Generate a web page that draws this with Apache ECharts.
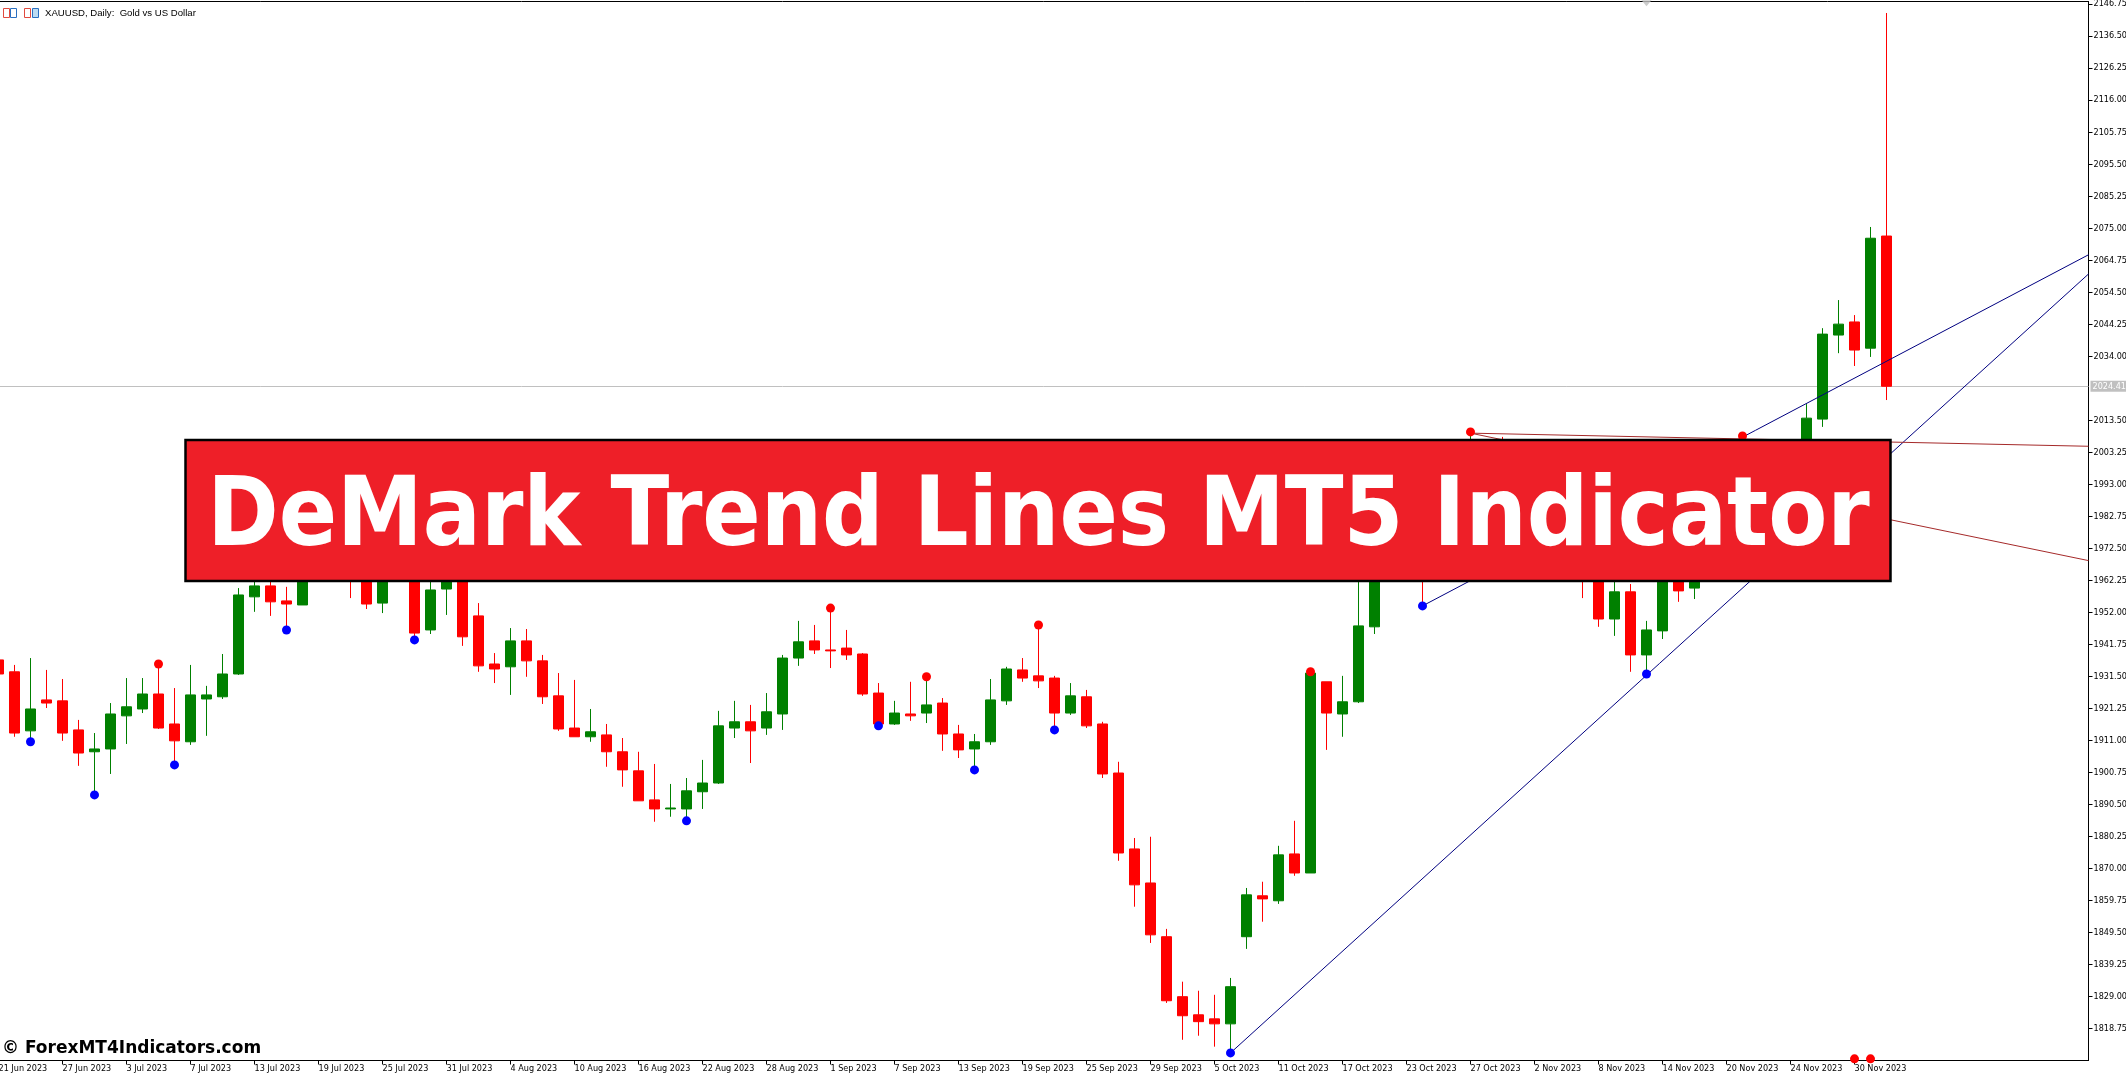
<!DOCTYPE html>
<html><head><meta charset="utf-8">
<style>html,body{margin:0;padding:0;background:#fff;overflow:hidden}#c{width:2126px;height:1077px}</style>
<script src="https://cdn.jsdelivr.net/npm/echarts@6/dist/echarts.min.js"></script>
</head><body><div id="c"></div>
<script>
const chartTitle = 'XAUUSD, Daily:  Gold vs US Dollar';
const bannerText = 'DeMark Trend Lines MT5 Indicator';
const watermark = '\u00A9 ForexMT4Indicators.com';
const dateLabels = ['21 Jun 2023','27 Jun 2023','3 Jul 2023','7 Jul 2023','13 Jul 2023','19 Jul 2023','25 Jul 2023','31 Jul 2023','4 Aug 2023','10 Aug 2023','16 Aug 2023','22 Aug 2023','28 Aug 2023','1 Sep 2023','7 Sep 2023','13 Sep 2023','19 Sep 2023','25 Sep 2023','29 Sep 2023','5 Oct 2023','11 Oct 2023','17 Oct 2023','23 Oct 2023','27 Oct 2023','2 Nov 2023','8 Nov 2023','14 Nov 2023','20 Nov 2023','24 Nov 2023','30 Nov 2023'];
const dateLabelStep = 4;
const priceTicks = [2146.75,2136.5,2126.25,2116,2105.75,2095.5,2085.25,2075,2064.75,2054.5,2044.25,2034,2013.5,2003.25,1993,1982.75,1972.5,1962.25,1952,1941.75,1931.5,1921.25,1911,1900.75,1890.5,1880.25,1870,1859.75,1849.5,1839.25,1829,1818.75];
const lastPrice = 2024.41;
const opens = [1936.8,1933.0,1914.1,1924.0,1923.7,1914.4,1907.4,1908.3,1918.9,1921.1,1925.9,1916.3,1910.6,1924.3,1925.0,1932.3,1957.0,1960.5,1955.7,1954.4,1969,1975,1972,1966,1955.0,1968,1966,1946.4,1959.5,1966,1950.9,1935.5,1934.6,1942.9,1936.5,1925.3,1915.0,1912.2,1912.8,1907.4,1901.3,1892.0,1889.1,1889.1,1894.6,1897.4,1915.0,1917.0,1915.0,1919.5,1937.4,1942.9,1940.0,1940.6,1938.7,1926.2,1916.3,1919.5,1919.8,1923.0,1913.1,1908.3,1910.6,1923.7,1933.6,1931.7,1931.0,1919.8,1925.0,1916.3,1900.6,1876.3,1865.4,1848.2,1829.0,1823.2,1821.9,1820.3,1848.2,1861.3,1859.7,1874.7,1868.6,1929.8,1919.5,1923.4,1947.4,1968,1974,1981,1972,1980,1985,2005,2001,1992,1988,1982,1978,1972,1966,1949.9,1958.6,1938.4,1946.1,1968,1959.8,1964,1977,1995,1985,1992,1988,1996,2013.9,2040.8,2045.0,2036.6,2072.5];
const closes = [1932.3,1913.4,1921.1,1923.0,1913.4,1907.0,1908.3,1919.5,1921.8,1925.9,1915.0,1910.9,1925.6,1925.6,1932.3,1957.6,1960.5,1955.4,1954.7,1968.8,1975,1968,1966,1954.7,1968,1966,1945.4,1959.2,1966,1944.2,1934.9,1933.9,1942.9,1936.5,1925.0,1914.7,1912.2,1913.8,1907.4,1901.6,1891.7,1889.1,1889.4,1894.9,1897.4,1915.7,1917.0,1914.1,1920.2,1937.4,1942.6,1940.0,1939.7,1938.4,1925.9,1916.3,1919.8,1918.9,1922.4,1913.1,1908.0,1910.6,1924.0,1933.9,1931.0,1930.1,1919.8,1925.3,1915.7,1900.3,1875.0,1864.8,1848.8,1827.7,1822.9,1821.0,1820.3,1832.2,1861.6,1860.3,1874.4,1868.6,1932.6,1919.8,1923.4,1947.7,1968,1974,1981,1972,1980,1985,2005,1995,1992,1988,1982,1978,1972,1966,1949.9,1958.6,1938.4,1946.4,1968,1958.9,1964,1977,1982,1985,1992,1988,1995,2014.2,2041.1,2044.3,2036.0,2071.8,2024.41];
const lows = [1932.3,1912.2,1910.9,1921.4,1910.9,1902.9,1893.6,1900.3,1909.9,1919.8,1914.7,1903.2,1909.6,1912.5,1924.3,1932.0,1952.2,1950.9,1946.4,1954.4,1965,1964,1956.6,1953.1,1951.8,1962,1943.2,1945.1,1951.2,1941.3,1933.0,1929.4,1925.6,1931.4,1922.7,1914.1,1912.2,1910.6,1902.6,1896.2,1891.7,1885.0,1886.6,1885.3,1889.1,1897.1,1911.8,1903.8,1912.8,1914.4,1934.9,1938.7,1934.2,1936.8,1925.3,1915.7,1916.0,1917.3,1916.6,1907.7,1905.4,1901.6,1909.6,1922.4,1929.8,1927.8,1914.4,1919.2,1915.0,1899.0,1872.5,1857.8,1846.2,1827.0,1815.2,1816.5,1813.0,1811.0,1844.3,1853.0,1858.7,1867.7,1868.6,1908.0,1912.2,1923.0,1945.1,1962,1965,1954.1,1964,1970,1976,1990,1985,1980,1975,1970,1966,1956.6,1947.4,1944.5,1933.0,1932.3,1943.5,1955.4,1956.3,1963,1972,1978,1980,1982,1984,1990,2011.4,2035.0,2030.9,2033.8,2020.0];
const highs = [1936.8,1935.2,1937.4,1933.6,1930.7,1917.6,1913.4,1923.0,1931.0,1931.0,1935.5,1927.8,1935.2,1928.5,1938.7,1959.8,1963,1964,1960.2,1970.4,1980,1982,1978,1972,1975,1973,1970,1966,1972,1970,1955.0,1939.0,1947.0,1946.7,1938.4,1932.6,1930.4,1921.1,1916.3,1911.8,1907.4,1903.5,1897.1,1899.0,1904.8,1920.5,1923.7,1922.4,1926.2,1938.4,1949.3,1948.0,1953.4,1946.4,1939.0,1929.4,1923.7,1929.8,1931.4,1924.6,1916.0,1913.1,1930.7,1934.6,1937.4,1948.0,1931.7,1929.4,1927.2,1917.0,1904.2,1879.8,1880.2,1850.7,1833.8,1830.9,1829.6,1835.0,1863.8,1865.8,1877.3,1885.3,1933.0,1929.8,1931.7,1966,1972,1988,1997,2000,1985,1990,2009.8,2007,2008.2,1996,1992,1986,1983,1978,1970,1966,1961.1,1949.3,1970,1972,1968,1982,1986,2008.5,1998,1996,2000,2018.7,2043.0,2052.0,2047.2,2075.4,2143.9];
const blueDots = [[2,1910.6],[6,1893.6],[11,1903.2],[18,1946.4],[26,1943.2],[43,1885.3],[55,1915.7],[61,1901.6],[66,1914.4],[77,1811.0],[89,1954.1],[103,1932.3]];
const redDots = [[10,1935.5],[52,1953.4],[58,1931.4],[65,1948.0],[82,1933.0],[92,2009.8],[109,2008.5],[116,1809.1],[117,1809.1]];
const lastIndex = 130.625;
const blueLineA = [[77,1811.0],[lastIndex,2060.35]];
const blueLineB = [[89,1954.1],[lastIndex,2066.5]];
const redLineA = [[92,2009.4],[lastIndex,2005.2]];
const redLineB = [[92,2009.4],[lastIndex,1968.6]];
const shiftMark = [[103,2147.0]];
const yTop = 2147.58, yBottom = 1808.57;

const tickIdx = dateLabels.map((_, i) => i * dateLabelStep);
const candles = opens.map((o, i) => [i, o, closes[i], lows[i], highs[i]]);
const lineSeries = (data, color) => ({type:'line', data, showSymbol:false, symbol:'none', silent:true, z:4, clip:true,
  lineStyle:{color, width:1}});
const dotSeries = (data, color) => ({type:'scatter', data, symbol:'circle', symbolSize:9, z:6, clip:true,
  itemStyle:{color, opacity:1}});

const axisFont = {fontFamily:'"DejaVu Sans Condensed","Liberation Sans"', fontSize:9, color:'#000'};
const chart = echarts.init(document.getElementById('c'), null, {renderer:'canvas', width:2126, height:1077});
chart.setOption({
  animation:false, backgroundColor:'#fff',
  title:{text:chartTitle, left:45, top:8, padding:0, textStyle:{fontFamily:'Liberation Sans', fontSize:9.6, fontWeight:'normal', color:'#000'}},
  grid:{left:-1.5, top:1.5, width:2090, height:1059, show:true, backgroundColor:'#fff', borderColor:'#000', borderWidth:1, containLabel:false, outerBoundsMode:'none'},
  xAxis:{type:'value', min:0, max:lastIndex, splitLine:{show:false},
    axisLine:{show:true, onZero:false, lineStyle:{color:'#000'}},
    axisTick:{show:true, length:4, customValues:tickIdx, lineStyle:{color:'#000'}},
    axisLabel:{show:true, customValues:tickIdx, align:'left', margin:4, hideOverlap:false, showMinLabel:true, ...axisFont,
      formatter:v => dateLabels[Math.round(v / dateLabelStep)] || ''}},
  yAxis:{type:'value', position:'right', min:yBottom, max:yTop, scale:true, splitLine:{show:false},
    axisLine:{show:true, onZero:false, lineStyle:{color:'#000'}},
    axisTick:{show:true, length:4, customValues:priceTicks, lineStyle:{color:'#000'}},
    axisLabel:{show:true, customValues:priceTicks, margin:5, align:'left', hideOverlap:false, ...axisFont,
      formatter:v => v.toFixed(2)}},
  series:[
    {type:'candlestick', data:candles, encode:{x:0, y:[1,2,3,4]}, barWidth:10, z:3, clip:true, silent:true,
      itemStyle:{color:'#008000', color0:'#ff0000', borderColor:'#008000', borderColor0:'#ff0000', borderWidth:1},
      markLine:{silent:true, symbol:'none', animation:false, z:2,
        lineStyle:{color:'#c0c0c0', type:'solid', width:1},
        label:{show:true, position:'end', distance:2, formatter:lastPrice.toFixed(2), color:'#fff', backgroundColor:'#c0c0c0',
          fontFamily:axisFont.fontFamily, fontSize:9, padding:[1,2,1,2]},
        data:[{yAxis:lastPrice}]}},
    lineSeries(blueLineA,'#000080'), lineSeries(blueLineB,'#000080'),
    lineSeries(redLineA,'#a52a2a'), lineSeries(redLineB,'#a52a2a'),
    dotSeries(blueDots,'#0000ff'), dotSeries(redDots,'#ff0000'),
    {type:'scatter', data:shiftMark, symbol:'triangle', symbolRotate:180, symbolSize:[10,6], z:6, clip:false, itemStyle:{color:'#c0c0c0'}}
  ],
  graphic:[
    {type:'rect', z:100, shape:{x:185.5,y:440,width:1705,height:141}, style:{fill:'#ee1f28', stroke:'#000', lineWidth:2.5}},
    {type:'text', z:101, x:1038.5, y:472, scaleX:0.897, style:{text:bannerText, fill:'#fff', font:'bold 96px "DejaVu Sans"', textAlign:'center', textBaseline:'top'}},
    {type:'text', z:101, x:2, y:1039, scaleX:0.945, style:{text:watermark, fill:'#000', font:'bold 18px "DejaVu Sans"', textAlign:'left', textBaseline:'top'}},
    {type:'rect', z:50, shape:{x:3.5,y:8.5,width:6,height:9}, style:{fill:'#fff', stroke:'#e04a3f', lineWidth:1}},
    {type:'rect', z:50, shape:{x:10.5,y:8.5,width:6,height:9}, style:{fill:'#fff', stroke:'#2a6fc0', lineWidth:1}},
    {type:'rect', z:50, shape:{x:24.5,y:8.5,width:6,height:9}, style:{fill:'#fff', stroke:'#e04a3f', lineWidth:1}},
    {type:'rect', z:50, shape:{x:32.5,y:8.5,width:6,height:9}, style:{fill:'#bcdcf3', stroke:'#2a6fc0', lineWidth:1}}
  ]
});
</script></body></html>
